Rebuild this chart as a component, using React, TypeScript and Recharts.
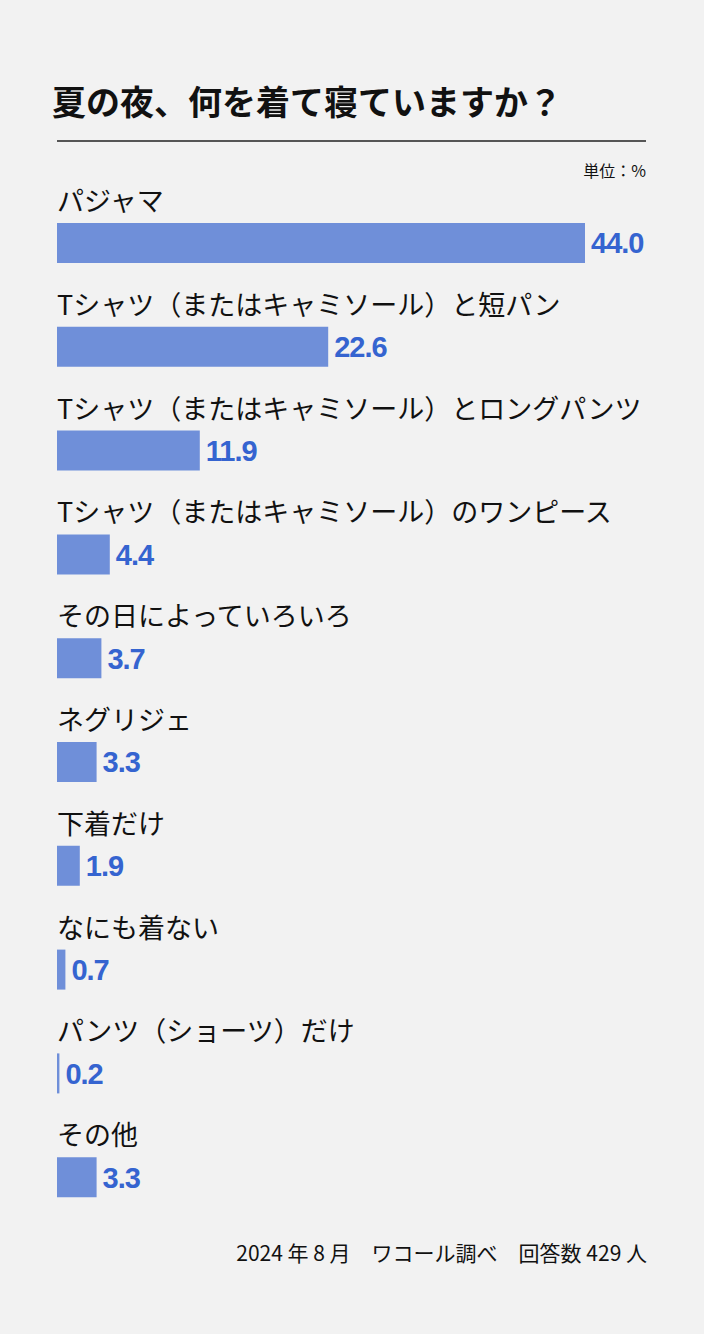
import React from "react";
import { BarChart, Bar, XAxis, YAxis, LabelList } from "recharts";

const categories = [
  "パジャマ",
  "Tシャツ（またはキャミソール）と短パン",
  "Tシャツ（またはキャミソール）とロングパンツ",
  "Tシャツ（またはキャミソール）のワンピース",
  "その日によっていろいろ",
  "ネグリジェ",
  "下着だけ",
  "なにも着ない",
  "パンツ（ショーツ）だけ",
  "その他",
];
const values = [44.0, 22.6, 11.9, 4.4, 3.7, 3.3, 1.9, 0.7, 0.2, 3.3];

const title = "夏の夜、何を着て寝ていますか？";
const unitLabel = "単位：%";
const footer = "2024 年 8 月　ワコール調べ　回答数 429 人";

const data = categories.map((name, i) => ({ name, value: values[i] }));

const JP = '"Noto Sans CJK JP", "Noto Sans", sans-serif';
const NUM = '"Liberation Sans", Arial, sans-serif';

const RowLabel = (props: any) => {
  const { x, y, width, height, index, value } = props;
  return (
    <g>
      <text x={x} y={y - 12} fontFamily={JP} fontSize={27} fill="#111">
        {categories[index]}
      </text>
      <text
        x={x + width + 6}
        y={y + height / 2}
        dy="0.36em"
        fontFamily={NUM}
        fontWeight={700}
        fontSize={29}
        letterSpacing={-1}
        fill="#3564d0"
      >
        {Number(value).toFixed(1)}
      </text>
    </g>
  );
};

export default function App() {
  return (
    <div
      style={{
        position: "absolute",
        left: 0,
        top: 0,
        width: 704,
        height: 1334,
        background: "#f2f2f2",
        overflow: "hidden",
      }}
    >
      <svg
        width={704}
        height={1334}
        style={{ position: "absolute", left: 0, top: 0 }}
      >
        <text x={52} y={115} fontFamily={JP} fontWeight={700} fontSize={34} fill="#111">
          {title}
        </text>
        <line x1={57} x2={646} y1={141} y2={141} stroke="#222" strokeWidth={1.5} />
        <text x={646} y={177} textAnchor="end" fontFamily={JP} fontSize={16} fill="#111">
          {unitLabel}
        </text>
        <text x={647} y={1261} textAnchor="end" fontFamily={JP} fontSize={21} fill="#111">
          {footer}
        </text>
      </svg>
      <div style={{ position: "absolute", left: 0, top: 141 }}>
        <BarChart
          width={704}
          height={1088}
          data={data}
          layout="vertical"
          margin={{ top: 50, right: 119, bottom: 0, left: 57 }}
        >
          <XAxis type="number" domain={[0, 44]} hide />
          <YAxis type="category" dataKey="name" hide />
          <Bar dataKey="value" fill="#6f8fd9" barSize={40} isAnimationActive={false}>
            <LabelList dataKey="value" content={RowLabel} />
          </Bar>
        </BarChart>
      </div>
    </div>
  );
}
